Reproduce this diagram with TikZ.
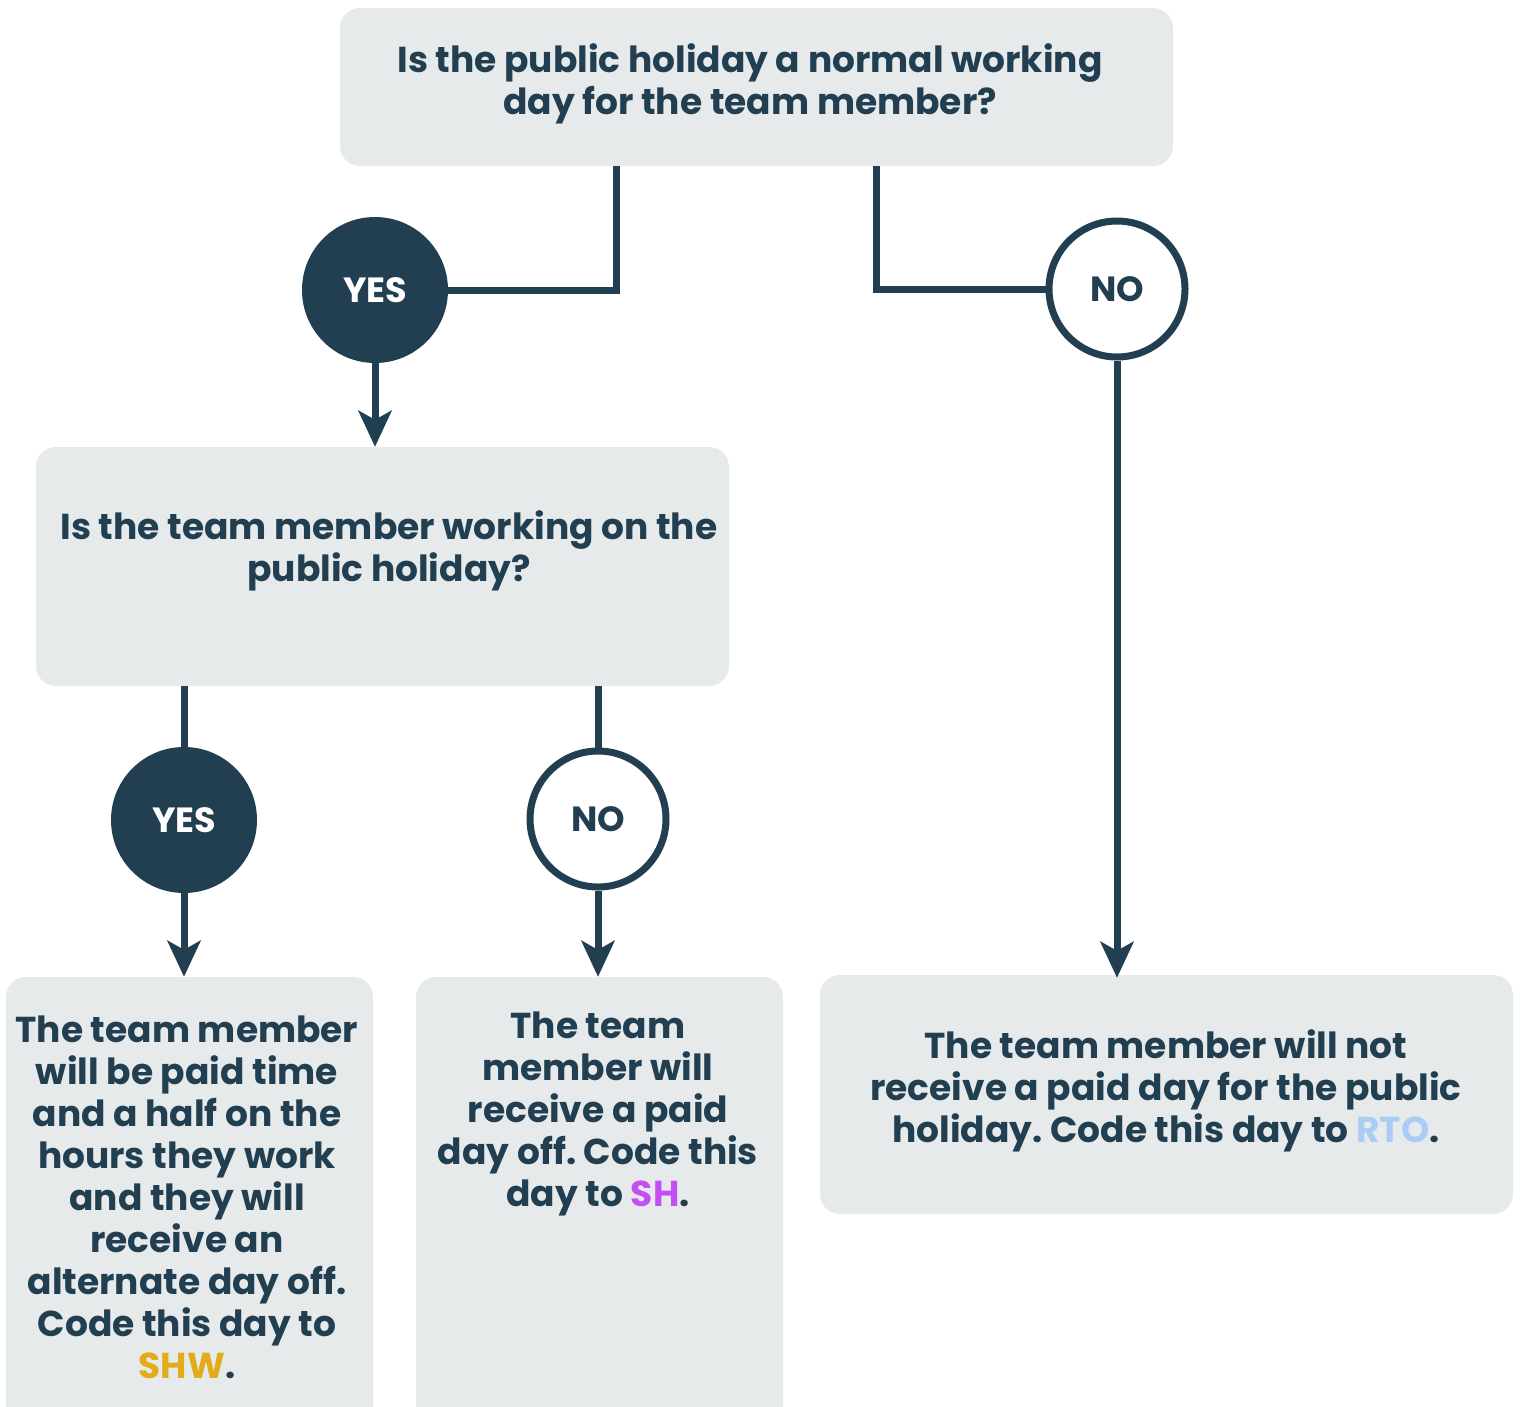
\documentclass[tikz,border=0pt]{standalone}
\usepackage{fontspec}
\setmainfont{Poppins}
\frenchspacing
\usetikzlibrary{arrows.meta}
\definecolor{navy}{HTML}{213F51}
\definecolor{boxgray}{HTML}{E6EAEB}
\definecolor{shwgold}{HTML}{E2AB1A}
\definecolor{shpurple}{HTML}{C44EF5}
\definecolor{rtoblue}{HTML}{A9CDF5}
\tikzset{
  box/.style={fill=boxgray, rounded corners=20pt, inner sep=0pt, draw=none},
  txt/.style={align=center, text=navy, inner sep=0pt, font=\fontsize{36}{42}\selectfont\bfseries},
  yescirc/.style={circle, fill=navy, minimum size=146pt, inner sep=0pt, text=white, font=\fontsize{35}{40}\selectfont\bfseries},
  nocirc/.style={circle, draw=navy, line width=7pt, fill=white, minimum size=136pt, inner sep=0pt, text=navy, font=\fontsize{35}{40}\selectfont\bfseries},
  conn/.style={draw=navy, line width=7pt},
  arr/.style={conn, -{Stealth[length=36pt, width=33pt, inset=9pt]}},
}
\begin{document}
\begin{tikzpicture}[x=1pt,y=-1pt]
\clip (0,0) rectangle (1520,1406);
\fill[white] (0,0) rectangle (1520,1406);
% boxes
\node[box, minimum width=833pt, minimum height=158pt] (q1) at (756.5,87) {};
\node[box, minimum width=693pt, minimum height=239pt] (q2) at (382.5,566.5) {};
\node[box, minimum width=367pt, minimum height=480pt] (a3) at (189.5,1217) {};
\node[box, minimum width=367pt, minimum height=480pt] (a4) at (599.5,1217) {};
\node[box, minimum width=693pt, minimum height=239pt] (a5) at (1166.5,1094.5) {};
% texts
\node[txt] (t1) at (750,84) {Is the public holiday a normal working\\day for the team member?};
\node[txt] (t2) at (389,551) {Is the team member working on the\\public holiday?};
\node[txt] (t3) at (187,1197) {The team member\\will be paid time\\and a half on the\\hours they work\\and they will\\receive an\\alternate day off.\\Code this day to\\\textcolor{shwgold}{SHW}.};
\node[txt] (t4) at (598,1114) {The team\\member will\\receive a paid\\day off. Code this\\day to \textcolor{shpurple}{SH}.};
\node[txt] (t5) at (1166,1091) {The team member will not\\receive a paid day for the public\\holiday. Code this day to \textcolor{rtoblue}{RTO}.};
% decision circles
\node[yescirc] (y1) at (375,290) {YES};
\node[nocirc] (n1) at (1117,289) {NO};
\node[yescirc] (y2) at (184,820) {YES};
\node[nocirc] (n2) at (598,819) {NO};
% helper coordinates
\coordinate (c1) at (616,0);
\coordinate (c2) at (876,0);
% connectors
\draw[conn] (q1.south -| c1) |- (y1.east);
\draw[conn] (q1.south -| c2) |- (n1.west);
\draw[arr] (y1.south) -- (q2.north -| y1);
\draw[conn] (q2.south -| y2) -- (y2.north);
\draw[conn] (q2.south -| n2) -- (n2.north);
\draw[arr] (y2.south) -- (a3.north -| y2);
\draw[arr] (n2.south) -- (a4.north -| n2);
\draw[arr] (n1.south) -- ([yshift=-3pt]a5.north -| n1);
\end{tikzpicture}
\end{document}
